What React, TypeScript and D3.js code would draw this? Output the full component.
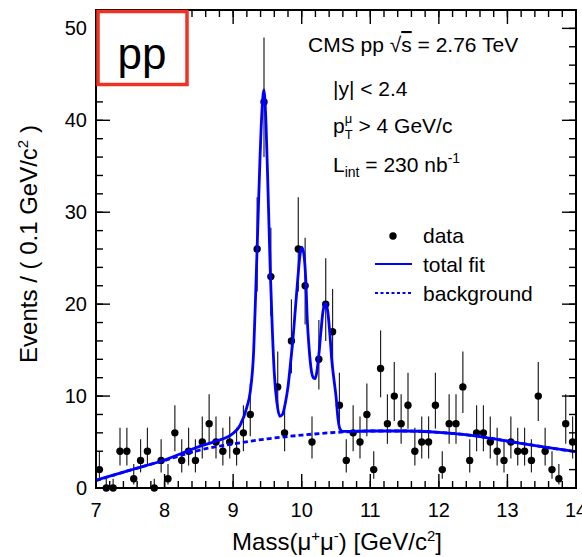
import React from "react";
import * as d3 from "d3";

// events per 0.1 GeV bin, 7.0 - 14.0 GeV
const binLow = 7.0;
const binWidth = 0.1;
const counts = [
  2, 0, 0, 4, 4, 1, 3, 4, 0, 3,
  1, 6, 3, 4, 3, 5, 7, 5, 4, 5,
  4, 6, 8, 26, 42, 23, 11, 6, 16, 26,
  22, 5, 14, 20, 17, 9, 3, 6, 5, 8,
  2, 13, 7, 10, 7, 9, 4, 5, 5, 9,
  2, 7, 7, 11, 3, 6, 6, 5, 4, 3,
  5, 4, 4, 3, 10, 4, 2, 1, 7, 5,
];

// total fit curve
const fitMass = [
  7.0, 7.5, 8.0, 8.5, 8.75, 9.0, 9.1, 9.2, 9.25, 9.3,
  9.33, 9.36, 9.39, 9.42, 9.45, 9.48, 9.51, 9.54, 9.57, 9.6,
  9.64, 9.68, 9.72, 9.76, 9.8, 9.84, 9.87, 9.9, 9.94, 9.97,
  10.0, 10.03, 10.06, 10.08, 10.11, 10.14, 10.17, 10.195, 10.22, 10.25,
  10.28, 10.31, 10.345, 10.38, 10.41, 10.44, 10.47, 10.5, 10.53, 10.56,
  10.6, 10.7, 11.0, 11.5, 12.0, 12.5, 13.0, 13.5, 14.0,
];
const fitValue = [
  0.85, 1.95, 3.05, 4.5, 5.1, 5.95, 6.8, 8.8, 10.5, 15,
  21.5, 28.5, 35.5, 41, 43.3, 39.5, 32, 24, 17.5, 12.5,
  9.2, 7.8, 8.0, 9.2, 11.0, 13.8, 16, 18.8, 22.5, 25,
  26.2, 25.5, 22.5, 18.5, 15, 12.8, 12.0, 11.9, 12.6, 14.5,
  17, 19.2, 20.1, 19.2, 16.8, 13.8, 11.8, 10.0, 7.5, 6.4,
  6.15, 6.15, 6.2, 6.2, 6.05, 5.7, 5.1, 4.5, 3.95,
];

// background component
const bgMass = [7.0, 7.5, 8.0, 8.5, 9.0, 9.5, 10.0, 10.5, 11.0, 11.5, 12.0, 12.5, 13.0, 13.5, 14.0];
const bgValue = [0.8, 1.95, 3.0, 4.1, 4.8, 5.35, 5.75, 6.05, 6.2, 6.2, 6.05, 5.7, 5.1, 4.5, 3.95];

const xTicks = [7, 8, 9, 10, 11, 12, 13, 14];
const yTicks = [0, 10, 20, 30, 40, 50];

const FONT = "'Liberation Sans', Arial, Helvetica, sans-serif";

export default function App() {
  const width = 582;
  const height = 557;
  const frame = { left: 96, right: 576, top: 10, bottom: 488 };

  const x = d3.scaleLinear().domain([7, 14]).range([frame.left, frame.right]);
  const y = d3.scaleLinear().domain([0, 52]).range([frame.bottom, frame.top]);

  const xMinor = d3.range(7, 14.001, 0.2);
  const yMinor = d3.range(0, 52.001, 2);

  const fitLine = d3
    .line<number>()
    .x((_, i) => x(fitMass[i]))
    .y((d) => y(d))
    .curve(d3.curveMonotoneX);
  const bgLine = d3
    .line<number>()
    .x((_, i) => x(bgMass[i]))
    .y((d) => y(d))
    .curve(d3.curveMonotoneX);

  // poisson-ish asymmetric errors
  const points = counts.map((n, i) => {
    const c = binLow + binWidth * (i + 0.5);
    const s = Math.sqrt(n + 0.25);
    return { c, n, lo: n + 0.5 - s, hi: n + 0.5 + s };
  });

  return (
    <svg
      width={width}
      height={height}
      style={{ position: "absolute", left: 0, top: 0, background: "#fff" }}
      fontFamily={FONT}
    >
      <defs>
        <clipPath id="plot">
          <rect x={frame.left} y={frame.top} width={frame.right - frame.left} height={frame.bottom - frame.top} />
        </clipPath>
      </defs>

      {/* error bars + markers */}
      <g>
        {points.map((p, i) => (
          <line key={"e" + i} x1={x(p.c)} x2={x(p.c)} y1={y(p.lo)} y2={y(p.hi)} stroke="#222" strokeWidth={1.2} />
        ))}
        {points.map((p, i) => (
          <circle key={"p" + i} cx={x(p.c)} cy={y(p.n)} r={3.7} fill="#000" />
        ))}
      </g>

      {/* fit curves */}
      <g clipPath="url(#plot)">
        <path d={bgLine(bgValue) || ""} fill="none" stroke="#0000ff" strokeWidth={2.8} strokeDasharray="5,3" />
        <path d={fitLine(fitValue) || ""} fill="none" stroke="#0000ff" strokeWidth={2.8} />
      </g>

      {/* frame */}
      <rect
        x={frame.left}
        y={frame.top}
        width={frame.right - frame.left}
        height={frame.bottom - frame.top}
        fill="none"
        stroke="#000"
        strokeWidth={2}
      />

      {/* x ticks, bottom and top */}
      <g stroke="#000" strokeWidth={1.4}>
        {xMinor.map((v, i) => (
          <g key={"xm" + i}>
            <line x1={x(v)} x2={x(v)} y1={frame.bottom} y2={frame.bottom - 7} />
            <line x1={x(v)} x2={x(v)} y1={frame.top} y2={frame.top + 7} />
          </g>
        ))}
        {xTicks.map((v) => (
          <g key={"xM" + v}>
            <line x1={x(v)} x2={x(v)} y1={frame.bottom} y2={frame.bottom - 14} />
            <line x1={x(v)} x2={x(v)} y1={frame.top} y2={frame.top + 14} />
          </g>
        ))}
        {yMinor.map((v, i) => (
          <g key={"ym" + i}>
            <line x1={frame.left} x2={frame.left + 7} y1={y(v)} y2={y(v)} />
            <line x1={frame.right} x2={frame.right - 7} y1={y(v)} y2={y(v)} />
          </g>
        ))}
        {yTicks.map((v) => (
          <g key={"yM" + v}>
            <line x1={frame.left} x2={frame.left + 14} y1={y(v)} y2={y(v)} />
            <line x1={frame.right} x2={frame.right - 14} y1={y(v)} y2={y(v)} />
          </g>
        ))}
      </g>

      {/* tick labels */}
      <g fontSize={20} fill="#000">
        {xTicks.map((v) => (
          <text key={"xl" + v} x={x(v)} y={frame.bottom + 29} textAnchor="middle">
            {v}
          </text>
        ))}
        {yTicks.map((v) => (
          <text key={"yl" + v} x={frame.left - 9} y={y(v) + 7} textAnchor="end">
            {v}
          </text>
        ))}
      </g>

      {/* axis titles */}
      <text x={337} y={550} fontSize={24} textAnchor="middle">
        Mass(μ<tspan fontSize={15} dy={-9}>+</tspan>
        <tspan dy={9}>μ</tspan>
        <tspan fontSize={15} dy={-9}>-</tspan>
        <tspan dy={9}>) [GeV/c</tspan>
        <tspan fontSize={15} dy={-9}>2</tspan>
        <tspan dy={9}>]</tspan>
      </text>
      <text transform="translate(37,244) rotate(-90)" fontSize={24} textAnchor="middle">
        Events / ( 0.1 GeV/c<tspan fontSize={15} dy={-9}>2</tspan>
        <tspan dy={9}> )</tspan>
      </text>

      {/* pp label box */}
      <rect x={98} y={11.5} width={89} height={73} fill="#fff" stroke="#ee3322" strokeWidth={3.5} />
      <text x={142} y={69} fontSize={44} textAnchor="middle">
        pp
      </text>

      {/* annotations */}
      <g fontSize={21} fill="#000">
        <text x={308} y={52}>
          CMS pp √<tspan textDecoration="overline">s</tspan> = 2.76 TeV
        </text>
        <text x={333} y={96}>|y| &lt; 2.4</text>
        <text x={333} y={133}>
          p<tspan fontSize={13} dy={-10}>μ</tspan>
          <tspan fontSize={13} dx={-7.5} dy={16}>T</tspan>
          <tspan dy={-6}> &gt; 4 GeV/c</tspan>
        </text>
        <text x={333} y={172}>
          L<tspan fontSize={14} dy={5}>int</tspan>
          <tspan dy={-5}> = 230 nb</tspan>
          <tspan fontSize={14} dy={-9}>-1</tspan>
        </text>
      </g>

      {/* legend */}
      <g fontSize={21}>
        <circle cx={393} cy={236} r={3.7} fill="#000" />
        <text x={423} y={243}>data</text>
        <line x1={375} x2={412} y1={264} y2={264} stroke="#0000ff" strokeWidth={2} />
        <text x={423} y={272}>total fit</text>
        <line x1={375} x2={412} y1={293} y2={293} stroke="#0000ff" strokeWidth={2} strokeDasharray="3,2.5" />
        <text x={423} y={301}>background</text>
      </g>
    </svg>
  );
}
